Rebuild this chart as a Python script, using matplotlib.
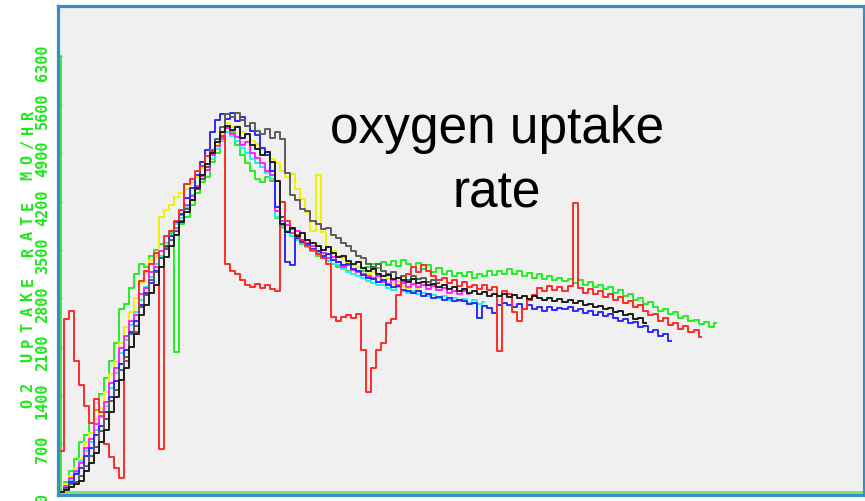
"""Oxygen uptake rate traces, redrawn from a screenshot of an old plotting program.

Outputs: out.png
"""

import matplotlib

matplotlib.use("Agg")
import matplotlib.pyplot as plt
import matplotlib.transforms as mtransforms
import numpy as np

# one sample every DT time units (one x tick = 1 unit)
DT = 0.1

Y_TICKS = [0, 700, 1400, 2100, 2800, 3500, 4200, 4900, 5600, 6300]
X_TICKS = list(range(1, 16))
Y_LABEL = "O2 UPTAKE RATE MO/HR"
TITLE_1 = "oxygen uptake"
TITLE_2 = "rate"

green_vals = [
    0, 150, 300, 480, 720, 820, 1000, 1180, 1420, 1650,
    1900, 2150, 2650, 2720, 2950, 3150, 3300, 3260, 3420, 3500,
    3580, 3520, 3750, 2030, 3880, 3980, 4150, 4320, 4480, 4560,
    4780, 4900, 5100, 5280, 5200, 5020, 4880, 4760, 4640, 4520,
    4480, 4560, 4500, 3960, 3840, 3760, 3700, 3660, 3580, 3560,
    3480, 3420, 3380, 3340, 3300, 3250, 3280, 3200, 3230, 3180,
    3200, 3260, 3300, 3240, 3320, 3280, 3340, 3270, 3360, 3300,
    3250, 3310, 3230, 3280, 3180, 3240, 3150, 3200, 3120, 3170,
    3130, 3180, 3100, 3160, 3120, 3190, 3140, 3200, 3160, 3220,
    3150, 3190, 3120, 3170, 3100, 3160, 3080, 3120, 3060, 3100,
    3050, 3080, 3020, 3060, 2990, 3030, 2960, 3000, 2930, 2970,
    2880, 2920, 2840, 2860, 2770, 2810, 2720, 2750, 2680, 2620,
    2640, 2570, 2600, 2520, 2550, 2470, 2490, 2430, 2460, 2390,
    2440,
]

yellow_vals = [
    0, 110, 230, 350, 480, 720, 850, 1050, 1200, 1450,
    1700, 1880, 2150, 2380, 2600, 2800, 3020, 3180, 3350, 3420,
    3980, 4080, 4150, 4260, 4330, 4380, 4480, 4560, 4680, 4750,
    4900, 5020, 5180, 5340, 5280, 5300, 5200, 5160, 5080, 5040,
    4960, 4880, 4820, 4760, 4640, 4560, 4600, 4380, 4240, 4050,
    3780, 4580, 3760, 3300, 3480, 3420, 3380, 3330, 3280, 3250,
    3220, 3160, 3180, 3100, 3060, 3080, 3010, 3040, 2980, 2950,
    2990, 2930,
]

cyan_vals = [
    0, 70, 180, 280, 450, 600, 720, 900, 1080, 1250,
    1500, 1720, 2010, 2200, 2420, 2600, 2780, 2960, 3110, 3300,
    3420, 3600, 3720, 3880, 3960, 4120, 4300, 4400, 4520, 4700,
    4820, 4960, 5080, 5200, 5150, 5080, 4980, 4900, 4820, 4760,
    4700, 4620, 4520, 3980, 3820, 3780, 3700, 3640, 3600, 3540,
    3500, 3460, 3400, 3340, 3300, 3280, 3220, 3180, 3150, 3120,
    3090, 3050, 3020, 2990, 3000, 2950, 2920, 2960, 2900, 2880,
    2900, 2860, 2880, 2830, 2850, 2800, 2840, 2780, 2810, 2760,
    2790, 2740, 2770, 2720, 2750,
]

magenta_vals = [
    0, 90, 200, 310, 420, 640, 760, 980, 1100, 1300,
    1580, 1790, 2080, 2250, 2480, 2560, 2870, 2950, 3180, 3260,
    3480, 3540, 3780, 3820, 4010, 4150, 4280, 4420, 4570, 4660,
    4880, 5010, 5120, 5260, 5180, 5140, 5020, 5060, 4900, 4830,
    4760, 4640, 4590, 4060, 3920, 3860, 3740, 3780, 3640, 3600,
    3560, 3490, 3450, 3380, 3400, 3320, 3260, 3290, 3210, 3180,
    3160, 3120, 3090, 3130, 3040, 3010, 3060, 2990, 3020, 2960,
    3010, 2970, 3000, 2940, 2980, 2920, 2950, 2880, 2910, 2870,
    2900, 2860,
]

blue_vals = [
    0, 60, 150, 260, 340, 520, 640, 820, 950, 1150,
    1380, 1600, 1850, 2050, 2320, 2480, 2700, 2880, 3020, 3200,
    3380, 3560, 3700, 3900, 4020, 4250, 4400, 4580, 4780, 4950,
    5200, 5380, 5460, 5400, 5480, 5360, 5420, 5300, 5220, 5160,
    4980, 4880, 4640, 4120, 3980, 3320, 3280, 3680, 3620, 3580,
    3520, 3480, 3420, 3440, 3360, 3320, 3280, 3300, 3220, 3200,
    3140, 3100, 3080, 3040, 3060, 3000, 2960, 2980, 2920, 2900,
    2880, 2900, 2840, 2860, 2800, 2820, 2780, 2810, 2760, 2780,
    2760, 2720, 2740, 2520, 2690, 2660, 2590, 2710, 2740, 2700,
    2680, 2720, 2650, 2700, 2640, 2680, 2620, 2670, 2630, 2660,
    2640, 2680, 2620, 2650, 2590, 2620, 2560, 2600, 2550, 2570,
    2520, 2480, 2500, 2440, 2460, 2380, 2400, 2320, 2340, 2260,
    2280, 2180,
]

red_vals = [
    600, 2500, 2620, 1900, 1550, 1250, 1000, 1350, 1150, 700,
    500, 350, 200, 1900, 2100, 2320, 3050, 3200, 3300, 3450,
    620, 3700, 3780, 3920, 4080, 4450, 4520, 4640, 4720, 4860,
    4950, 5060, 5150, 3300, 3200, 3160, 3060, 3000, 2960, 3010,
    2950, 2990, 2930, 2900, 4200, 3920, 3800, 3720, 3650, 3560,
    3500, 3440, 3380, 3300, 2530, 2480, 2530, 2560, 2510, 2580,
    2050, 1450, 1800, 2050, 2150, 2450, 2500, 2850, 3050, 3150,
    3250, 3180, 3280, 3200, 3120, 3060, 3100, 3020, 3060, 2980,
    3040, 2960, 3000, 2940, 2990, 2920, 2960, 2040, 2900, 2860,
    2600, 2480, 2650, 2780, 2850, 2950, 2900, 2980, 2920, 2960,
    2900, 2980, 4180, 2950, 2880, 2940, 2860, 2900, 2820, 2860,
    2780, 2820, 2740, 2760, 2680, 2700, 2620, 2560, 2580, 2480,
    2510, 2420, 2450, 2360, 2400, 2310, 2350, 2240,
]

gray_vals = [
    0, 40, 110, 150, 230, 380, 520, 650, 880, 1050,
    1320, 1480, 1760, 1950, 2280, 2400, 2680, 2850, 3060, 3180,
    3380, 3520, 3640, 3780, 3920, 4100, 4220, 4380, 4520, 4700,
    4920, 5100, 5280, 5460, 5420, 5480, 5380, 5300, 5340, 5220,
    5180, 5250, 5120, 5200, 5100, 4620, 4300, 4220, 4100, 4060,
    3920, 3880, 3800, 3820, 3720, 3680, 3600, 3560, 3480, 3420,
    3380, 3300, 3260, 3300, 3200, 3160, 3180, 3100, 3120, 3060,
    3120, 3080, 3100, 3040, 3070, 3020,
]

black_vals = [
    0, 30, 70, 120, 160, 300, 420, 560, 720, 900,
    1150, 1380, 1620, 1800, 2100, 2280, 2560, 2700, 2880, 3000,
    3250, 3400, 3560, 3720, 3900, 4050, 4220, 4400, 4580, 4740,
    4900, 5060, 5200, 5300, 5240, 5280, 5120, 5180, 5020, 4960,
    4880, 4920, 4780, 4500, 3880, 3760, 3820, 3700, 3740, 3640,
    3600, 3560, 3500, 3540, 3460, 3400, 3420, 3340, 3300, 3320,
    3240, 3200, 3220, 3160, 3120, 3140, 3080, 3100, 3060, 3040,
    3080, 3020, 3040, 2990, 3010, 2960, 2990, 2940, 2960, 2910,
    2930, 2880, 2900, 2860, 2890, 2840, 2870, 2830, 2860, 2820,
    2850, 2810, 2840, 2790, 2830, 2800, 2780, 2810, 2760, 2790,
    2750, 2780, 2730, 2760, 2700, 2720, 2680, 2690, 2640, 2660,
    2600, 2620, 2560, 2580, 2500, 2520, 2450,
]

SERIES = [
    (green_vals, "#22ee22"),
    (yellow_vals, "#f2f200"),
    (cyan_vals, "#22eeee"),
    (magenta_vals, "#ff22ff"),
    (blue_vals, "#2a2aff"),
    (red_vals, "#ff2a2a"),
    (gray_vals, "#5c5c5c"),
    (black_vals, "#1e1e1e"),
]

AXIS_GREEN = "#1de81d"
FRAME_BLUE = "#3a8fc2"


def main():
    fig = plt.figure(figsize=(8.65, 5.02), dpi=100)
    ax = fig.add_axes([58.5 / 865, 6.5 / 502, 805 / 865, 489 / 502])
    ax.set_facecolor("#f0f0f0")
    for sp in ax.spines.values():
        sp.set_color(FRAME_BLUE)
        sp.set_linewidth(2.3)

    for vals, color in SERIES:
        t = np.arange(len(vals)) * DT
        ax.plot(t, vals, color=color, lw=1.4, drawstyle="steps-mid", zorder=3)

    # green axis lines of the original program
    ax.plot([0, 0], [0, Y_TICKS[-1]], color=AXIS_GREEN, lw=1.2, zorder=2)
    ax.axhline(0, color="#7ae47a", lw=2.2, zorder=2)

    ax.set_xlim(-2.5 / 50.4, 802.5 / 50.4)
    ax.set_ylim(-2.5 * 14.463, 486.5 * 14.463)
    ax.set_xticks(X_TICKS)
    ax.set_yticks(Y_TICKS)
    ax.tick_params(direction="in", length=3, width=1, color=AXIS_GREEN,
                   labelleft=False, labelbottom=False)

    # rotated tick labels, slightly below each tick
    trans = mtransforms.offset_copy(ax.get_yaxis_transform(), fig=fig,
                                    y=-5, units="dots")
    for v in Y_TICKS:
        ax.text(-16 / 805, v, str(v), transform=trans, rotation=90,
                ha="center", va="center", color=AXIS_GREEN,
                family="DejaVu Sans Mono", fontsize=11, fontweight="bold",
                clip_on=False)

    # spaced-out axis label, one character at a time
    for i, ch in enumerate(Y_LABEL):
        fig.text(28 / 865, 1 - (403 - i * 15.2) / 502, ch, rotation=90,
                 ha="center", va="center", color=AXIS_GREEN,
                 family="DejaVu Sans Mono", fontsize=11, fontweight="bold")

    fig.text(497 / 865, 1 - 143 / 502, TITLE_1, ha="center", va="baseline",
             family="Liberation Sans", fontsize=37, color="black")
    fig.text(497 / 865, 1 - 208 / 502, TITLE_2, ha="center", va="baseline",
             family="Liberation Sans", fontsize=37, color="black")

    fig.savefig("out.png", dpi=100)
    plt.close(fig)


if __name__ == "__main__":
    main()
